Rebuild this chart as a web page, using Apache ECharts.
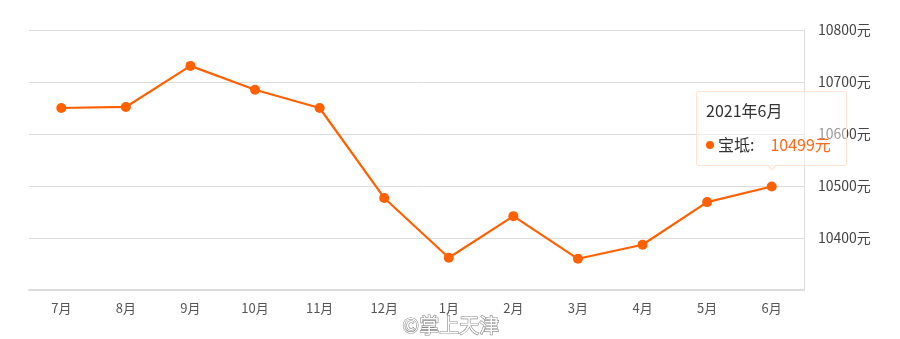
<!DOCTYPE html>
<html>
<head>
<meta charset="utf-8">
<script src="https://cdn.jsdelivr.net/npm/echarts@6/dist/echarts.min.js"></script>
<style>
html,body{margin:0;padding:0;background:#fff;}
#main{width:900px;height:339px;}
</style>
</head>
<body>
<div id="main"></div>
<script>
var categories = ['7月','8月','9月','10月','11月','12月','1月','2月','3月','4月','5月','6月'];
var fullLabels = ['2020年7月','2020年8月','2020年9月','2020年10月','2020年11月','2020年12月','2021年1月','2021年2月','2021年3月','2021年4月','2021年5月','2021年6月'];
var seriesName = '宝坻';
var prices = [10650, 10652, 10731, 10685, 10650, 10477, 10362, 10442, 10360, 10387, 10469, 10499];
var yTicks = [10300, 10400, 10500, 10600, 10700, 10800];

var chart = echarts.init(document.getElementById('main'));
var font = '"Noto Sans CJK SC", "Microsoft YaHei", sans-serif';
var cssFont = font.replace(/"/g, "'");
chart.setOption({
  animation: false,
  textStyle: {fontFamily: font},
  grid: {left: 29, right: 96, top: 30, bottom: 49},
  tooltip: {
    trigger: 'item',
    triggerOn: 'none',
    alwaysShowContent: true,
    position: 'top',
    backgroundColor: 'rgba(255,255,255,0.45)',
    borderColor: '#ffe3d1',
    borderWidth: 1,
    padding: [8, 10, 11, 9],
    extraCssText: 'box-shadow:none;border-radius:2px;width:130px;margin-top:-6px;',
    formatter: function (p) {
      return '<div style="font-family:' + cssFont + ';font-size:16px;color:#333;line-height:20px;">' +
        fullLabels[p.dataIndex] + '</div>' +
        '<div style="font-family:' + cssFont + ';font-size:16px;color:#333;line-height:20px;margin-top:14px;white-space:nowrap;">' +
        '<span style="display:inline-block;width:8px;height:8px;border-radius:50%;background:#ff6000;margin-right:4px;vertical-align:2px;"></span>' +
        p.seriesName + ':<span style="display:inline-block;width:16px;"></span><span style="color:#ff6a1a;">' + p.value + '元</span></div>';
    }
  },
  xAxis: {
    type: 'category',
    data: categories,
    boundaryGap: true,
    axisLine: {lineStyle: {color: '#dcdcdc', width: 2}},
    axisTick: {alignWithLabel: true, length: 4, lineStyle: {color: '#dcdcdc'}},
    axisLabel: {color: '#555', fontSize: 13, margin: 12, fontFamily: font}
  },
  yAxis: {
    type: 'value',
    position: 'right',
    min: yTicks[0],
    max: yTicks[yTicks.length - 1],
    interval: 100,
    axisLine: {show: true, lineStyle: {color: '#dcdcdc', width: 1}},
    axisTick: {show: false},
    splitLine: {lineStyle: {color: '#dcdcdc', width: 1}},
    axisLabel: {
      color: '#444', fontSize: 14, margin: 14, fontFamily: font,
      showMinLabel: false,
      formatter: function (v) { return v + '元'; }
    }
  },
  series: [{
    name: seriesName,
    type: 'line',
    data: prices,
    symbol: 'circle',
    symbolSize: 10,
    lineStyle: {color: '#ff6000', width: 2.2},
    itemStyle: {color: '#ff6000'}
  }],
  graphic: [{
    type: 'text',
    left: 402,
    top: 315,
    style: {
      text: '©掌上天津',
      fontSize: 20,
      fontFamily: font,
      fill: '#fff',
      stroke: '#888',
      lineWidth: 1.2
    }
  }]
});
chart.dispatchAction({type: 'showTip', seriesIndex: 0, dataIndex: 11});
</script>
</body>
</html>
